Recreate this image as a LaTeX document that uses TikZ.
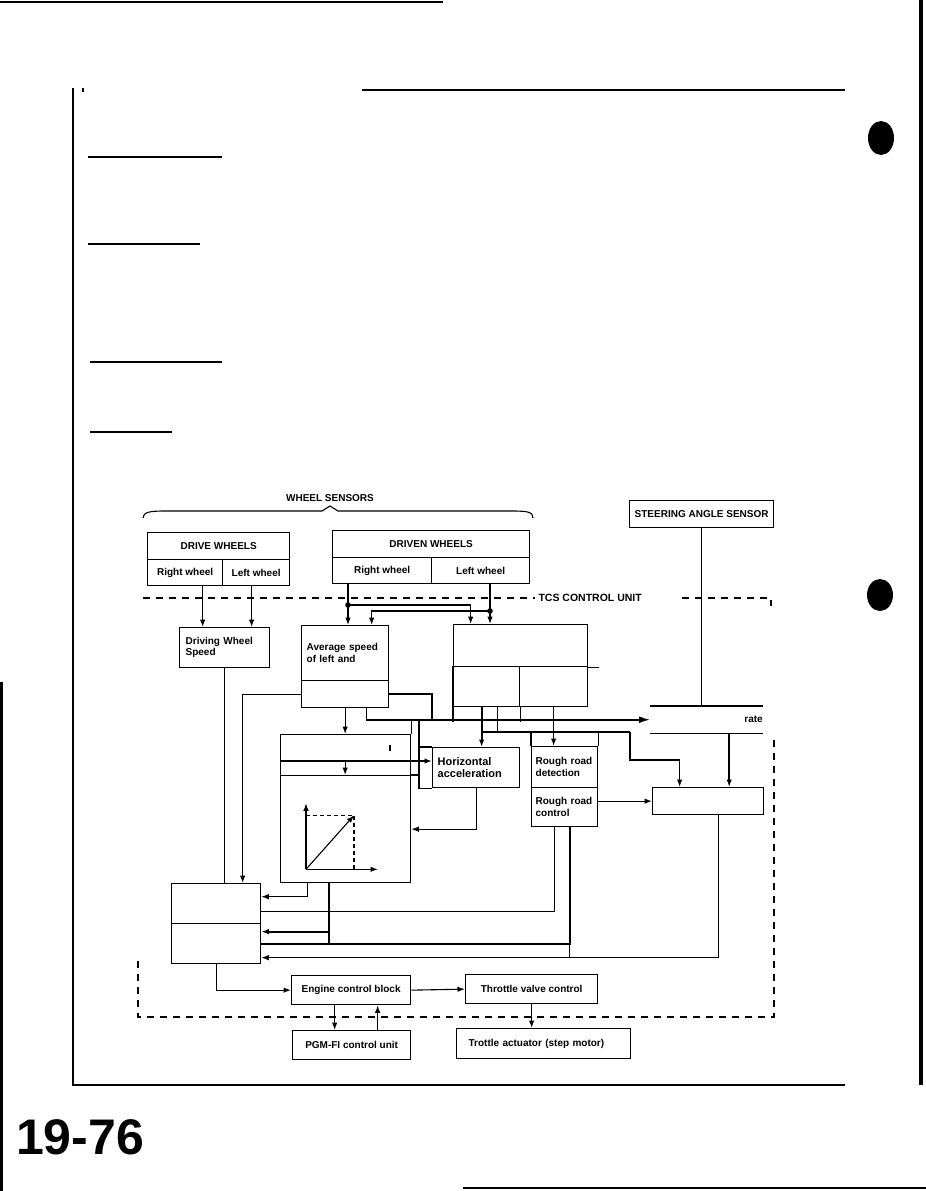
\documentclass[tikz,border=0pt]{standalone}
\usepackage{fontspec}
\setmainfont{Liberation Sans}
\usepackage{tikz}
\usetikzlibrary{arrows.meta,positioning,calc}
\newcommand{\tcsfont}{\fontsize{10}{11.5}\selectfont\bfseries}

\begin{document}
\begin{tikzpicture}[x=1pt, y=-1pt,
  box/.style={draw, line width=1.3pt, inner sep=0pt, anchor=north west, font=\tcsfont},
  lbox/.style={box, align=left, text width=#1},
  wire/.style={line width=1.1pt},
  heavy/.style={line width=2pt},
  arr/.style={-{Latex[length=7.5pt,width=5.5pt]}, line width=1.1pt},
  bigarr/.style={-{Latex[length=11pt,width=7pt]}, line width=1.6pt},
  border/.style={line width=1.1pt, dash pattern=on 7pt off 6pt}
]
  \fill[white] (0,0) rectangle (926,1191);
  \useasboundingbox (0,0) rectangle (926,1191);

  % page frame
  \draw[line width=1.4pt] (0,2) -- (443,2);
  \draw[line width=1.4pt] (362,90) -- (845,90);
  \draw[line width=1.4pt] (73,88) -- (73,1085) -- (845,1085);
  \draw[line width=4pt] (921,0) -- (921,1085);
  \draw[line width=3pt] (1.5,682) -- (1.5,1191);
  \draw[line width=1.4pt] (463,1188) -- (926,1188);
  \fill (82,88) rectangle (84,92);
  \draw[wire] (88,157) -- (222,157);
  \draw[wire] (88,244) -- (200,244);
  \draw[wire] (90,362) -- (222,362);
  \draw[wire] (90,432) -- (172,432);
  \fill (881,138) ellipse (13 and 17);
  \fill (880,595) ellipse (13 and 16);
  \node[font=\fontsize{50}{50}\selectfont\bfseries] (pgno) at (80,1137) {19-76};

  % sensors
  \node[font=\tcsfont] (wsens) at (330,498) {WHEEL SENSORS};
  \draw[wire] (143,518) .. controls (143,512) and (150,511) .. (165,511)
    -- (322,511) -- (330,506) -- (338,511) -- (512,511)
    .. controls (528,511) and (533,512) .. (533,518);
  \node[box, minimum width=142, minimum height=27] (drivehd) at (147,532) {DRIVE WHEELS};
  \node[box, minimum width=75, minimum height=26] (driveR) at (147,559) {Right wheel};
  \node[box, minimum width=67, minimum height=26] (driveL) at (222,559) {Left wheel};
  \node[box, minimum width=197, minimum height=27] (drivenhd) at (332,530) {DRIVEN WHEELS};
  \node[box, minimum width=99, minimum height=26] (drivenR) at (332,557) {Right wheel};
  \node[box, minimum width=98, minimum height=26] (drivenL) at (431,557) {Left wheel};
  \node[box, minimum width=144, minimum height=27] (steer) at (629,500) {STEERING ANGLE SENSOR};

  % TCS control unit border
  \node[font=\fontsize{10.5}{12}\selectfont\bfseries, anchor=west] (tcs) at (535,598) {TCS CONTROL UNIT};
  \draw[border] (143,598) -- (tcs.west);
  \draw[border] (682,598) -- (771,598) -- (771,606);
  \draw[border] (774,740) -- (774,1017) -- (138,1017) -- (138,958);

  % control blocks
  \node[lbox=78, minimum width=90, minimum height=40] (dws) at (179,627) {Driving Wheel\\Speed};
  \node[lbox=77, minimum width=87, minimum height=55] (avg) at (301,625) {Average speed\\of left and};
  \node[box, minimum width=87, minimum height=27] (avglow) at (301,680) {};
  \node[box, minimum width=134, minimum height=42] (diffT) at (453,624) {};
  \node[box, minimum width=66, minimum height=40] (diffL) at (453,666) {};
  \node[box, minimum width=68, minimum height=40] (diffR) at (519,666) {};
  \node[box, minimum width=130, minimum height=27] (gtop) at (280,734) {};
  \node[box, minimum width=130, minimum height=14] (gmid) at (280,761) {};
  \node[box, minimum width=130, minimum height=107] (gplot) at (280,775) {};
  \node[lbox=77, minimum width=87, minimum height=40, font=\fontsize{11}{12.5}\selectfont\bfseries] (horiz) at (432,747) {Horizontal\\acceleration};
  \node[lbox=58, minimum width=66, minimum height=41] (rrd) at (531,746) {Rough road\\detection};
  \node[lbox=58, minimum width=66, minimum height=39] (rrc) at (531,787) {Rough road\\control};
  \node[anchor=north west, inner sep=0pt, minimum width=113, minimum height=27, text width=112, align=right, font=\tcsfont] (rate) at (650,706) {rate};
  \node[box, minimum width=111, minimum height=27] (yawctl) at (652,787) {};
  \node[box, minimum width=89, minimum height=40] (blup) at (171,883) {};
  \node[box, minimum width=89, minimum height=40] (bllow) at (171,923) {};
  \node[box, minimum width=119, minimum height=29] (engine) at (291,975) {Engine control block};
  \node[box, minimum width=132, minimum height=29] (tvc) at (465,974) {Throttle valve control};
  \node[box, minimum width=118, minimum height=29] (pgm) at (292,1030) {PGM-FI control unit};
  \node[lbox=150, minimum width=174, minimum height=30] (act) at (456,1028) {Trottle actuator (step motor)};

  \draw[wire] (rate.north west) -- (rate.north east);
  \draw[wire] (rate.south west) -- (rate.south east);
  \draw[heavy] (gmid.north west) -- (gmid.north east);
  \draw[heavy] (diffL.north west) -- (diffL.south west) -- ++(0,15);
  \draw[wire] (diffL.south east) -- ++(0,15);
  \draw[wire] (diffT.south east) -- ++(11,0);
  \draw[wire] (390,745) -- (390,751);

  % graph
  \coordinate (o) at ([xshift=26,yshift=14]gplot.south west);
  \draw[arr] (o) -- ++(0,-66);
  \draw[arr] (o) -- ++(72,0);
  \draw[arr] (o) -- ++(48,-54);
  \draw[wire, dash pattern=on 4pt off 3pt] ([yshift=54]o) -- ++(48,0) -- ++(0,54);

  % wheel sensor signals
  \coordinate (dR) at ([xshift=17.5]driveR.south);
  \coordinate (dL) at ([xshift=-4.5]driveL.south);
  \draw[arr] (dR) -- (dR |- dws.north);
  \draw[arr] (dL) -- (dL |- dws.north);
  \coordinate (jR) at (348,605);
  \coordinate (jL) at (490,611);
  \draw[wire] (drivenR.south -| jR) -- (jR);
  \draw[arr] (jR) -- (jR |- avg.north);
  \draw[arr] (jR) -| ([xshift=-50]diffT.north);
  \draw[wire] (drivenL.south -| jL) -- (jL);
  \draw[arr] (jL) -- (jL |- diffT.north);
  \draw[arr] (jL) -| ([xshift=26.5]avg.north);
  \fill (jR) circle (2.8);
  \fill (jL) circle (2.8);

  % average speed outputs
  \coordinate (aL) at ([xshift=26.5]blup.north);
  \draw[arr] (avglow.west) -| (aL);
  \draw[wire] (dws.south) -- (dws.south |- blup.north);
  \draw[arr] (avglow.south) -- (avglow.south |- gtop.north);
  \draw[arr] (avglow.south |- gmid.north) -- (avglow.south |- gplot.north);
  \draw[arr, line width=1.4pt] (gmid.north east) -- (gmid.north east -| horiz.west);
  \coordinate (aR) at ([xshift=21.5]avglow.south);
  \draw[bigarr] (aR) |- (rate.west);
  \coordinate (c1) at (432,720);
  \coordinate (c2) at (419,720);
  \draw[heavy] (avglow.east) -| (c1);
  \draw[wire] (c2) |- (horiz.south west);
  \draw[wire] (c2 |- horiz.north west) -- (horiz.north west);
  \draw[wire] (gplot.north east) -- (gplot.north east -| c2);
  \draw[wire] (gtop.north east) -- (gtop.north east |- c2);

  % difference block outputs
  \coordinate (hx) at ([xshift=-5]diffL.south);
  \coordinate (px) at ([xshift=11]diffL.south);
  \coordinate (k1) at (630,732);
  \coordinate (k2) at (630,760);
  \coordinate (yx) at ([xshift=-28.5]yawctl.north);
  \draw[arr, heavy] (hx) -- (hx |- horiz.north);
  \draw[arr, line width=1.4pt] (diffR.south) -- (diffR.south |- rrd.north);
  \draw[wire] (px) -- (px |- k1);
  \draw[heavy] (hx |- k1) -- (k1);
  \draw[arr] (k1) -- (k2) -| (yx);
  \draw[wire] (rrd.north west) -- (rrd.north west |- k1);
  \draw[wire] (rrd.north east) -- (rrd.north east |- k1);

  % steering and road signals
  \draw[wire] (steer.south) -- (steer.south |- rate.north);
  \coordinate (rx) at ([xshift=22.5]rate.south);
  \draw[arr, heavy] (rx) -- (rx |- yawctl.north);
  \draw[arr] (yawctl.west -| rrc.east) -- (yawctl.west);
  \draw[arr] (horiz.south) |- (gplot.east);

  % into engine side block
  \coordinate (r1) at ([xshift=-10]rrc.south);
  \coordinate (r2) at ([xshift=5]rrc.south);
  \coordinate (yl) at ([yshift=-14]bllow.east);
  \coordinate (yb) at ([xshift=10.5]yawctl.south);
  \draw[wire] (r1) |- ([yshift=-8]blup.east);
  \draw[heavy] (bllow.east) -| (r2);
  \draw[wire] (r2 |- bllow.east) -- (r2 |- yl);
  \draw[arr] (yb) |- (yl);
  \coordinate (g1) at ([xshift=-38]gplot.south);
  \coordinate (g2) at ([xshift=-17]gplot.south);
  \coordinate (y2) at ([yshift=12]bllow.east);
  \draw[arr] (g1) |- ([yshift=7]blup.east);
  \draw[heavy] (g2) -- (g2 |- bllow.east);
  \draw[arr, heavy] (g2 |- y2) -- (y2);

  % engine and throttle
  \draw[arr] (bllow.south) |- (engine.west);
  \draw[arr] (engine.east) -- (tvc.west);
  \draw[arr] (tvc.south) -- (tvc.south |- act.north);
  \coordinate (e1) at ([xshift=-16.5]engine.south);
  \coordinate (e2) at ([xshift=26.5]engine.south);
  \draw[arr] (e1) -- (e1 |- pgm.north);
  \draw[arr] (e2 |- pgm.north) -- (e2);
\end{tikzpicture}
\end{document}
